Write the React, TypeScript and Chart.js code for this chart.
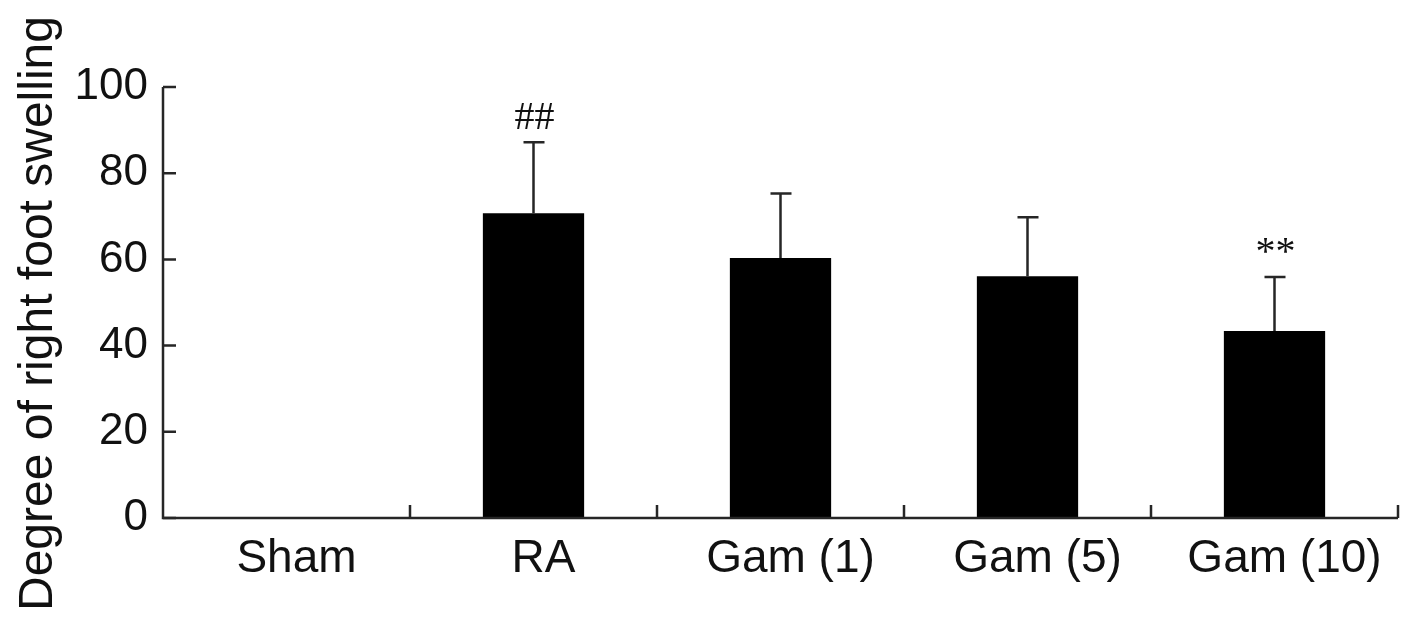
import React, { useEffect, useRef } from "react";
import { Chart, registerables } from "chart.js";

Chart.register(...registerables);

const categories = ["Sham", "RA", "Gam (1)", "Gam (5)", "Gam (10)"];
const meanValues = [0, 70.7, 60.3, 56.1, 43.4];
const errorUpper = [0, 87.2, 75.3, 69.8, 55.9];
const significance = ["", "##", "", "", "**"];
const yTickValues = [0, 20, 40, 60, 80, 100];
const yAxisTitle = "Degree of right foot swelling";

const FONT = "'Liberation Sans', Arial, sans-serif";
const INK = "#111111";
const LINE = "#262626";

const decorPlugin = {
  id: "decor",
  afterDatasetsDraw(chart: any) {
    const { ctx, chartArea, scales } = chart;
    const y = scales.y;
    const meta = chart.getDatasetMeta(0);
    ctx.save();
    // error bars
    ctx.strokeStyle = LINE;
    ctx.lineWidth = 2.5;
    meta.data.forEach((bar: any, i: number) => {
      if (errorUpper[i] <= meanValues[i]) return;
      const cx = bar.x;
      const y0 = y.getPixelForValue(meanValues[i]);
      const y1 = y.getPixelForValue(errorUpper[i]);
      ctx.beginPath();
      ctx.moveTo(cx, y0);
      ctx.lineTo(cx, y1);
      ctx.moveTo(cx - 10, y1);
      ctx.lineTo(cx + 11, y1);
      ctx.stroke();
    });
    // significance marks
    ctx.fillStyle = INK;
    ctx.textAlign = "center";
    ctx.textBaseline = "middle";
    ctx.font = "40px 'Liberation Serif', 'Times New Roman', serif";
    meta.data.forEach((bar: any, i: number) => {
      const s = significance[i];
      if (!s) return;
      const y1 = y.getPixelForValue(errorUpper[i]);
      ctx.fillText(s, bar.x + 1, y1 - 24);
    });
    // axes
    ctx.strokeStyle = LINE;
    ctx.lineWidth = 2.5;
    ctx.beginPath();
    ctx.moveTo(chartArea.left, y.getPixelForValue(100));
    ctx.lineTo(chartArea.left, chartArea.bottom);
    ctx.lineTo(chartArea.right, chartArea.bottom);
    ctx.stroke();
    // y ticks (inward)
    ctx.beginPath();
    yTickValues.forEach((v) => {
      const py = y.getPixelForValue(v);
      ctx.moveTo(chartArea.left, py);
      ctx.lineTo(chartArea.left + 13, py);
    });
    // x ticks between categories (upward)
    const n = categories.length;
    const w = (chartArea.right - chartArea.left) / n;
    for (let i = 1; i <= n; i++) {
      const px = chartArea.left + i * w;
      ctx.moveTo(px, chartArea.bottom);
      ctx.lineTo(px, chartArea.bottom - 13);
    }
    ctx.stroke();
    // y axis title
    ctx.translate(52, (chartArea.top + chartArea.bottom) / 2 + 11);
    ctx.rotate(-Math.PI / 2);
    ctx.textAlign = "center";
    ctx.textBaseline = "alphabetic";
    ctx.fillStyle = INK;
    ctx.font = "48px " + FONT;
    ctx.fillText(yAxisTitle, 0, 0);
    ctx.restore();
  },
};

export default function App() {
  const canvasRef = useRef<HTMLCanvasElement | null>(null);

  useEffect(() => {
    document.body.style.margin = "0";
    const canvas = canvasRef.current;
    if (!canvas) return;
    const chart = new Chart(canvas, {
      type: "bar",
      data: {
        labels: categories,
        datasets: [
          {
            data: meanValues,
            backgroundColor: "#000000",
            borderWidth: 0,
            barPercentage: 0.82,
            categoryPercentage: 0.5,
          },
        ],
      },
      options: {
        responsive: false,
        animation: false,
        devicePixelRatio: 1,
        layout: { padding: { top: 87, right: 19, left: 0, bottom: 0 } },
        plugins: {
          legend: { display: false },
          tooltip: { enabled: false },
        },
        scales: {
          x: {
            type: "category",
            grid: { display: false, drawTicks: false },
            border: { display: false },
            ticks: {
              color: INK,
              font: { family: FONT, size: 46 },
              padding: 14,
              labelOffset: 10,
              maxRotation: 0,
              autoSkip: false,
            },
            afterFit: (scale: any) => {
              scale.height = 108;
            },
          },
          y: {
            min: 0,
            max: 100,
            grid: { display: false, drawTicks: false },
            border: { display: false },
            ticks: {
              stepSize: 20,
              color: INK,
              font: { family: FONT, size: 44 },
              padding: 15,
            },
            title: { display: false },
            afterFit: (scale: any) => {
              scale.width = 163;
            },
          },
        },
      },
      plugins: [decorPlugin],
    });
    return () => chart.destroy();
  }, []);

  return (
    <div style={{ width: 1417, height: 626 }}>
      <canvas ref={canvasRef} width={1417} height={626} style={{ display: "block" }} />
    </div>
  );
}
